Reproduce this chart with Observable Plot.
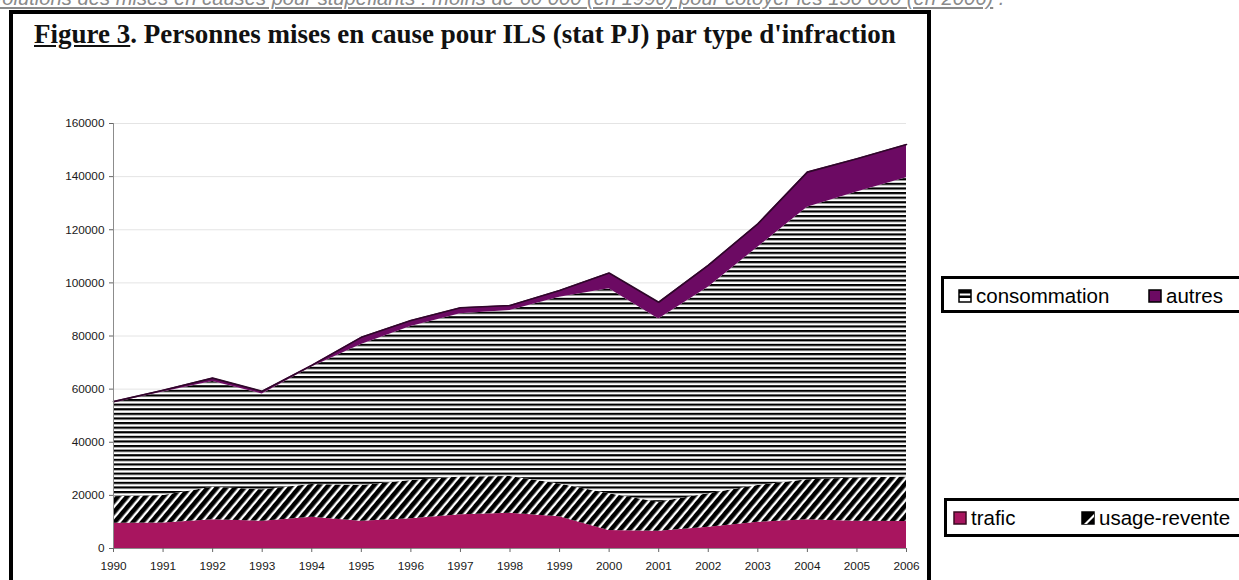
<!DOCTYPE html>
<html><head><meta charset="utf-8">
<script src="https://cdn.jsdelivr.net/npm/d3@7"></script>
<script src="https://cdn.jsdelivr.net/npm/@observablehq/plot@0.6"></script>
<style>
html,body{margin:0;padding:0}
body{width:1239px;height:580px;overflow:hidden;background:#fff;position:relative;font-family:"Liberation Sans",Arial,sans-serif}
#topline{position:absolute;left:-19px;top:-13px;font-size:20.2px;line-height:23px;font-style:italic;color:#8a8a8a;white-space:nowrap}
#topline u{text-decoration:underline}
#frame{position:absolute;left:9px;top:10px;width:922px;height:620px;border:4px solid #000;box-sizing:border-box}
#title{position:absolute;left:34px;top:19px;font-family:"Liberation Serif","DejaVu Serif",serif;font-weight:bold;font-size:27px;color:#111;white-space:nowrap}
#title u{text-decoration:underline}
#chart{position:absolute;left:0;top:100px}
.legend{position:absolute;border:3px solid #000;background:#fff;box-sizing:border-box;font-size:20.5px;color:#000;white-space:nowrap}
.legend .item{position:absolute;top:5px;display:flex;align-items:center}
.legend svg{margin-right:4px}
</style>
</head><body>
<div id="topline"><u>évolutions des mises en causes pour stupéfiants : moins de 60 000 (en 1990) pour côtoyer les 150 000 (en 2006)</u> .</div>
<div id="frame"></div>
<div id="title"><u>Figure 3</u>. Personnes mises en cause pour ILS (stat PJ) par type d'infraction</div>
<div id="chart"></div>
<div class="legend" id="leg1" style="left:941px;top:276px;width:302px;height:37px"></div>
<div class="legend" id="leg2" style="left:944px;top:498px;width:299px;height:39px"></div>
<script>
// ---- data ----
const years = [1990,1991,1992,1993,1994,1995,1996,1997,1998,1999,2000,2001,2002,2003,2004,2005,2006];
const trafic       = [9500, 9600, 10800, 10300, 11800, 10300, 11200, 12700, 13300, 12000, 6800, 6500, 8000, 9900, 10800, 10300, 10200];
const usageRevente = [10000, 10400, 12300, 11800, 12300, 13400, 14400, 14200, 13800, 12300, 13800, 10900, 12600, 13800, 15100, 16200, 16700];
const consommation = [35300, 38900, 39800, 36100, 44200, 53100, 58000, 61500, 62500, 70300, 77200, 69000, 77800, 89700, 102600, 107700, 112700];
const autres       = [500, 650, 1250, 1000, 650, 2700, 2250, 2250, 1900, 2500, 5900, 6300, 8200, 8800, 13200, 12500, 12500];
const seriesNames  = ["trafic", "usage-revente", "consommation", "autres"];
const seriesColors = ["#a8155f", "url(#diagHatch)", "url(#hStripe)", "#6c0a63"];
const yTicks = [0, 20000, 40000, 60000, 80000, 100000, 120000, 140000, 160000];

const seriesValues = [trafic, usageRevente, consommation, autres];
const long = [];
years.forEach((yr, i) => seriesNames.forEach((s, k) => long.push({year: yr, type: s, value: seriesValues[k][i]})));
const totals = years.map((yr, i) => ({year: yr, total: seriesValues.reduce((a, arr) => a + arr[i], 0)}));

const NS = "http://www.w3.org/2000/svg";
function makeDefs() {
  const defs = document.createElementNS(NS, "defs");
  defs.innerHTML = `
    <pattern id="hStripe" patternUnits="userSpaceOnUse" width="8" height="4.6">
      <rect width="8" height="4.6" fill="#fff"/>
      <rect y="0" width="8" height="2.2" fill="#000"/>
    </pattern>
    <pattern id="diagHatch" patternUnits="userSpaceOnUse" width="7" height="7" patternTransform="rotate(40)">
      <rect width="7" height="7" fill="#fff"/>
      <rect x="0" width="4.6" height="7" fill="#000"/>
    </pattern>`;
  return defs;
}

const chart = Plot.plot({
  width: 940,
  height: 480,
  marginLeft: 113,
  marginRight: 34,
  marginTop: 23,
  marginBottom: 32,
  style: {fontFamily: "'Liberation Sans', Arial, sans-serif", fontSize: "11.8px", color: "#1a1a1a", background: "transparent"},
  x: {domain: [1990, 2006], label: null},
  y: {domain: [0, 160000], label: null},
  color: {domain: seriesNames, range: seriesColors},
  marks: [
    () => { const g = document.createElementNS(NS, "g"); g.appendChild(makeDefs()); return g; },
    Plot.gridY(yTicks, {stroke: "#e4e4e4", strokeOpacity: 1, strokeWidth: 1}),
    Plot.areaY(long, {x: "year", y: "value", z: "type", fill: "type", order: seriesNames}),
    Plot.lineY(totals, {x: "year", y: "total", stroke: "#2e0729", strokeWidth: 1.6}),
    Plot.ruleX([1990], {stroke: "#8c8c8c"}),
    Plot.ruleY([0], {stroke: "#8c8c8c"}),
    Plot.axisX({ticks: years, tickFormat: d => String(d), tickSize: 4, tickPadding: 9, stroke: "#666"}),
    Plot.axisY({ticks: yTicks, tickFormat: d => String(d), tickSize: 4, tickPadding: 5, stroke: "#666"})
  ]
});
document.getElementById("chart").appendChild(chart);

// ---- legends ----
function swatch(kind) {
  const s = document.createElementNS(NS, "svg");
  s.setAttribute("width", 14); s.setAttribute("height", 14);
  let inner = "";
  if (kind === "consommation") {
    inner = `<rect x="1" y="1" width="12" height="12" fill="#fff" stroke="#000" stroke-width="1.5"/>
             <rect x="1" y="1" width="12" height="3.5" fill="#000"/>
             <rect x="1" y="6.5" width="12" height="2.5" fill="#000"/>`;
  } else if (kind === "autres") {
    inner = `<rect x="1" y="1" width="12" height="12" fill="#6c0a63" stroke="#000" stroke-width="1.5"/>`;
  } else if (kind === "trafic") {
    inner = `<rect x="1" y="1" width="12" height="12" fill="#a8155f" stroke="#3a0a20" stroke-width="1.5"/>`;
  } else {
    inner = `<rect x="1" y="1" width="12" height="12" fill="#000" stroke="#000" stroke-width="1.5"/>
             <path d="M13,3 L13,13 L3,13 Z" fill="#fff"/>
             <path d="M13,6 L13,13 L6,13 Z" fill="#000"/>`;
  }
  s.innerHTML = inner;
  return s;
}
function item(parent, name, left) {
  const d = document.createElement("div");
  d.className = "item";
  d.style.left = left + "px";
  d.appendChild(swatch(name));
  const t = document.createElement("span");
  t.textContent = name;
  d.appendChild(t);
  parent.appendChild(d);
}
const leg1 = document.getElementById("leg1");
item(leg1, "consommation", 14);
item(leg1, "autres", 204);
const leg2 = document.getElementById("leg2");
item(leg2, "trafic", 6);
item(leg2, "usage-revente", 134);
</script>
</body></html>
